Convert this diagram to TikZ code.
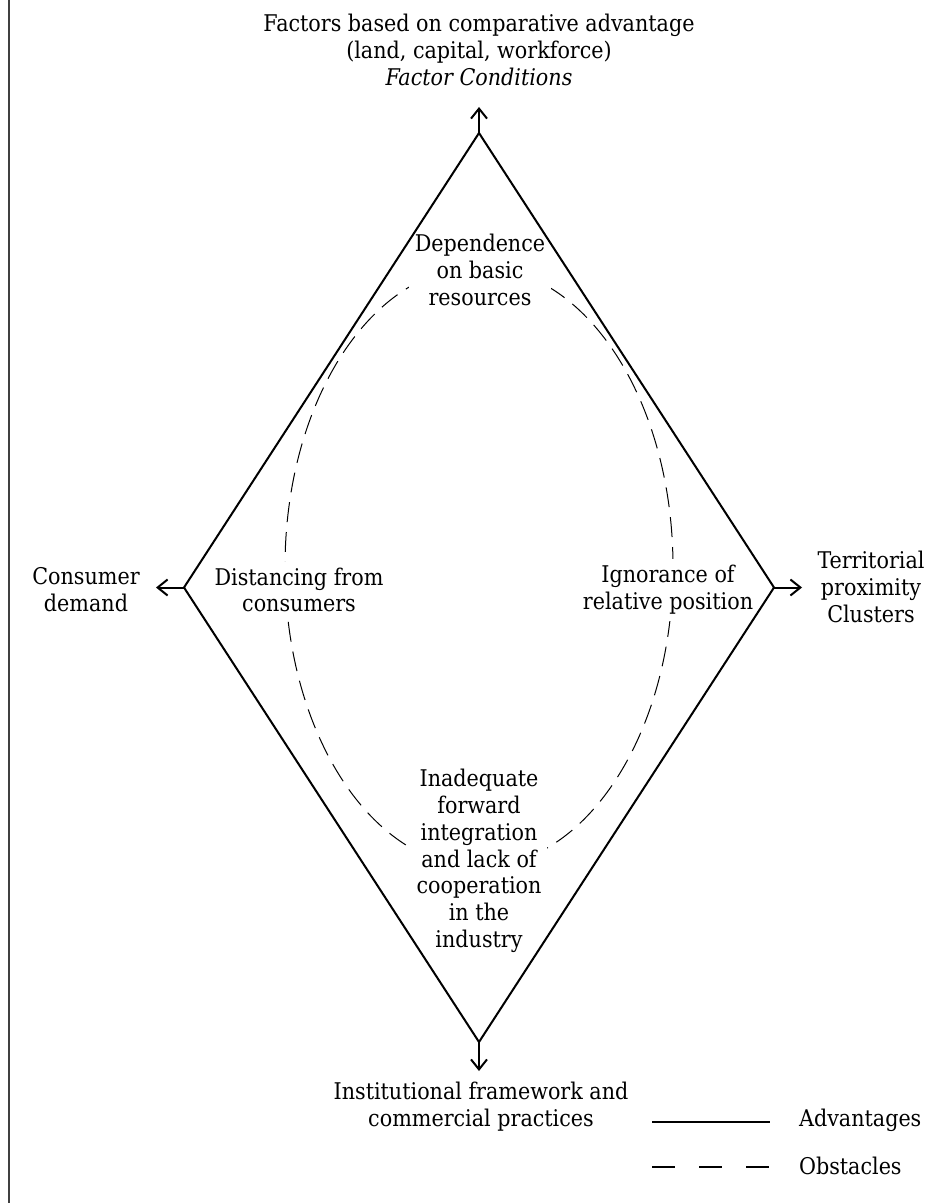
\documentclass[tikz,border=0pt]{standalone}
\usepackage{fontspec}
\setmainfont{DejaVu Serif Condensed}
\usetikzlibrary{positioning,arrows.meta}

\begin{document}
\begin{tikzpicture}[x=0.5pt,y=-0.5pt,font=\fontsize{11.5}{13.4}\selectfont,
  side/.style={line width=1pt},
  tip/.style={line width=1pt,-{Straight Barb[length=5pt,width=8pt]}},
  obst/.style={line width=0.5pt,dash pattern=on 10pt off 5pt},
  lbl/.style={align=center,inner sep=3pt},
  inlbl/.style={align=center,fill=white,inner sep=3pt}]
\useasboundingbox (0,0) rectangle (938,1203);
\draw[line width=0.8pt,black!75] (9,0) -- (9,1203);
\coordinate (T) at (479,133); \coordinate (R) at (774,587.5);
\coordinate (B) at (479,1042); \coordinate (L) at (184,587.5);
\coordinate (Tn) at (479,107); \coordinate (Re) at (802,587.5);
\coordinate (Bs) at (479,1071); \coordinate (Lw) at (156,587.5);
\draw[obst] (479,567) ellipse [x radius=97pt, y radius=150pt];
\node[inlbl] (dep) at (480,270) {Dependence\\on basic\\resources};
\node[inlbl] (dist) at (299,590) {Distancing from\\consumers};
\node[inlbl] (ign) at (668,590) {Ignorance of\\relative position};
\node[inlbl] (inad) at (479,861) {Inadequate\\forward\\integration\\and lack of\\cooperation\\in the\\industry};
\draw[side] (T) -- (R) -- (B) -- (L) -- cycle;
\foreach \v/\w in {T/Tn,R/Re,B/Bs,L/Lw} {\draw[tip] (\v) -- (\w);}
\node[lbl] (fac) at (479,50) {Factors based on comparative advantage\\(land, capital, workforce)\\\textit{Factor Conditions}};
\node[lbl] (dem) at (86,590) {Consumer\\demand};
\node[lbl] (clu) at (871,587) {Territorial\\proximity\\Clusters};
\node[lbl] (inst) at (481,1107) {Institutional framework and\\commercial practices};
\coordinate (a1) at (652,1122); \coordinate (a2) at (770,1122);
\coordinate (o1) at (652,1167); \coordinate (o2) at (770,1167);
\draw[line width=1.3pt] (a1) -- (a2);
\draw[line width=0.6pt,dash pattern=on 11.5pt off 12pt] (o1) -- (o2);
\node[anchor=west] (adv) at (792,1120) {Advantages};
\node[anchor=west] (obs) at (792,1166) {Obstacles};
\end{tikzpicture}
\end{document}
